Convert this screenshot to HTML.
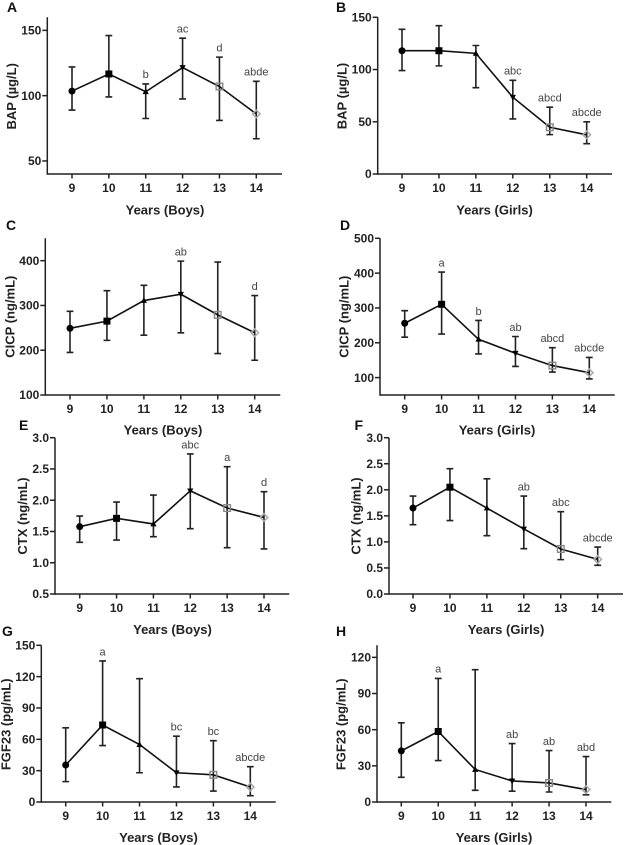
<!DOCTYPE html>
<html lang="en">
<head>
<meta charset="utf-8">
<title>Bone markers by age in boys and girls</title>
<style>
html,body{margin:0;padding:0;background:#fff;}
svg{display:block;filter:blur(0.35px);}
text{font-family:"Liberation Sans",Arial,sans-serif;}
.letter{font-size:14px;font-weight:bold;fill:#111;}
.ytitle,.xtitle{font-size:13px;font-weight:bold;fill:#222;}
.ytitle{text-anchor:middle;}
.xtitle{text-anchor:middle;}
.tick{font-size:12px;font-weight:bold;fill:#222;}
.sig{font-size:11px;fill:#444;text-anchor:middle;}
</style>
</head>
<body>
<svg id="figure" xmlns="http://www.w3.org/2000/svg" width="624" height="845" viewBox="0 0 624 845">
  <rect width="624" height="845" fill="#fff"/>

  <text class="letter" x="7" y="12">A</text>
  <text class="letter" x="336" y="12">B</text>
  <text class="letter" x="6" y="230">C</text>
  <text class="letter" x="340" y="230">D</text>
  <text class="letter" x="19" y="430">E</text>
  <text class="letter" x="354.5" y="430">F</text>
  <text class="letter" x="2" y="636">G</text>
  <text class="letter" x="336" y="636">H</text>

  <text class="ytitle" transform="translate(16,96.3) rotate(-90)">BAP (µg/L)</text>
  <text class="ytitle" transform="translate(346.5,96) rotate(-90)">BAP (µg/L)</text>
  <text class="ytitle" transform="translate(14.5,316.7) rotate(-90)">CICP (ng/mL)</text>
  <text class="ytitle" transform="translate(348.5,316.7) rotate(-90)">CICP (ng/mL)</text>
  <text class="ytitle" transform="translate(27,516) rotate(-90)">CTX (ng/mL)</text>
  <text class="ytitle" transform="translate(360.5,516) rotate(-90)">CTX (ng/mL)</text>
  <text class="ytitle" transform="translate(10.5,724.3) rotate(-90)">FGF23 (pg/mL)</text>
  <text class="ytitle" transform="translate(345.5,724.3) rotate(-90)">FGF23 (pg/mL)</text>

  <text class="xtitle" x="165" y="214.5">Years (Boys)</text>
  <text class="xtitle" x="494.5" y="214.5">Years (Girls)</text>
  <text class="xtitle" x="163" y="434.5">Years (Boys)</text>
  <text class="xtitle" x="497" y="434.5">Years (Girls)</text>
  <text class="xtitle" x="172.5" y="634">Years (Boys)</text>
  <text class="xtitle" x="506" y="634">Years (Girls)</text>
  <text class="xtitle" x="158.5" y="842">Years (Boys)</text>
  <text class="xtitle" x="494" y="842">Years (Girls)</text>
</svg>

<script>
var categories = ['9','10','11','12','13','14'];

var aMeans = [103.5,116.6,103,121.5,107,86];
var aUpper = [122,146,109,144,129.5,111];
var aLower = [89,99,82.5,97.5,81,67];
var aSig = ['','','b','ac','d','abde'];
var aTicks = [50,100,150];

var bMeans = [118,118,115.5,73.5,44.7,37.5];
var bUpper = [138.5,142,123,89.7,64,50];
var bLower = [99,103.5,82.6,52.7,37.7,29];
var bSig = ['','','','abc','abcd','abcde'];
var bTicks = [0,50,100,150];

var cMeans = [249,265,311,325,279,239];
var cUpper = [287,333,345,399,397,322];
var cLower = [195,222,233.5,239,192.5,177.6];
var cSig = ['','','','ab','','d'];
var cTicks = [100,200,300,400];

var dMeans = [256,310.5,210,170,134.5,114];
var dUpper = [292,403,264,218,186,158];
var dLower = [216,225,168,132,116,96];
var dSig = ['','a','b','ab','abcd','abcde'];
var dTicks = [100,200,300,400,500];

var eMeans = [1.577,1.71,1.62,2.15,1.875,1.725];
var eUpper = [1.747,1.97,2.083,2.74,2.536,2.136];
var eLower = [1.326,1.363,1.417,1.545,1.24,1.22];
var eSig = ['','','','abc','a','d'];
var eTicks = ['0.5','1.0','1.5','2.0','2.5','3.0'];

var fMeans = [1.65,2.05,1.65,1.248,0.864,0.665];
var fUpper = [1.88,2.405,2.21,1.88,1.58,0.9];
var fLower = [1.33,1.41,1.12,0.87,0.66,0.55];
var fSig = ['','','','ab','abc','abcde'];
var fTicks = ['0.0','0.5','1.0','1.5','2.0','2.5','3.0'];

var gMeans = [35.4,73.7,55,28,26,14.4];
var gUpper = [71,135,118,63,58.7,33.8];
var gLower = [19.5,54,28,14.4,10.5,6];
var gSig = ['','a','','bc','bc','abcde'];
var gTicks = [0,30,60,90,120,150];

var hMeans = [42.4,58.5,27,17.5,15.8,10.3];
var hUpper = [65.7,102.5,109.8,48.5,42.7,37.7];
var hLower = [20.5,34.4,9.7,9,8.3,6];
var hSig = ['','a','','ab','ab','abd'];
var hTicks = [0,30,60,90,120];

var panels = [
  {id:'a',means:aMeans,upper:aUpper,lower:aLower,sig:aSig,ticks:aTicks,domain:[40,160],axisX:47.3,axisEnd:282,top:17.3,bottom:174,first:72,last:256.3},
  {id:'b',means:bMeans,upper:bUpper,lower:bLower,sig:bSig,ticks:bTicks,domain:[0,150],axisX:377.7,axisEnd:612,top:17.3,bottom:174,first:402,last:586.7},
  {id:'c',means:cMeans,upper:cUpper,lower:cLower,sig:cSig,ticks:cTicks,domain:[100,450],axisX:45.3,axisEnd:280.3,top:238.3,bottom:395,first:70,last:254.7},
  {id:'d',means:dMeans,upper:dUpper,lower:dLower,sig:dSig,ticks:dTicks,domain:[50,500],axisX:380,axisEnd:614.7,top:238.3,bottom:395,first:404.7,last:589.3},
  {id:'e',means:eMeans,upper:eUpper,lower:eLower,sig:eSig,ticks:eTicks,domain:[0.5,3],axisX:55,axisEnd:289.3,top:437.7,bottom:594,first:79.7,last:264},
  {id:'f',means:fMeans,upper:fUpper,lower:fLower,sig:fSig,ticks:fTicks,domain:[0,3],axisX:389,axisEnd:623,top:437.7,bottom:594,first:413,last:597.7},
  {id:'g',means:gMeans,upper:gUpper,lower:gLower,sig:gSig,ticks:gTicks,domain:[0,150],axisX:41.3,axisEnd:275.7,top:645.3,bottom:802,first:65.7,last:250.3},
  {id:'h',means:hMeans,upper:hUpper,lower:hLower,sig:hSig,ticks:hTicks,domain:[0,130],axisX:377,axisEnd:611.3,top:645.3,bottom:802,first:401.3,last:586}
];

var NS = 'http://www.w3.org/2000/svg';
var root = document.getElementById('figure');

function el(tag, attrs, parent) {
  var node = document.createElementNS(NS, tag);
  for (var k in attrs) { node.setAttribute(k, attrs[k]); }
  parent.appendChild(node);
  return node;
}

function makeY(p) {
  return function (v) {
    return p.bottom - (Number(v) - p.domain[0]) / (p.domain[1] - p.domain[0]) * (p.bottom - p.top);
  };
}

function makeX(p) {
  return function (i) {
    return p.first + i * (p.last - p.first) / (categories.length - 1);
  };
}

function drawMarker(group, i) {
  var m;
  if (i === 0) {
    m = el('circle', {cx:0, cy:0, r:3.5, fill:'#000'}, group);
  } else if (i === 1) {
    m = el('rect', {x:-3.5, y:-3.5, width:7, height:7, fill:'#000'}, group);
  } else if (i === 2) {
    m = el('polygon', {points:'0,-3.3 3.1,2.4 -3.1,2.4', fill:'#000'}, group);
  } else if (i === 3) {
    m = el('polygon', {points:'0,3.3 3.1,-2.4 -3.1,-2.4', fill:'#000'}, group);
  } else if (i === 4) {
    m = el('rect', {x:-3.3, y:-3.3, width:6.6, height:6.6, fill:'none', stroke:'#888', 'stroke-width':1.4}, group);
  } else {
    m = el('polygon', {points:'0,-3.8 3.8,0 0,3.8 -3.8,0', fill:'none', stroke:'#aaa', 'stroke-width':1.5}, group);
  }
  return m;
}

panels.forEach(function (p) {
  var y = makeY(p);
  var x = makeX(p);

  var g = el('g', {}, root);
  
  

  var yAxis = el('line', {x1:p.axisX, x2:p.axisX, y1:p.top, y2:p.bottom + 0.7, stroke:'#222', 'stroke-width':1.5}, g);
  
  

  var xAxis = el('line', {x1:p.axisX, x2:p.axisEnd, y1:p.bottom, y2:p.bottom, stroke:'#222', 'stroke-width':1.5}, g);
  
  

  p.ticks.forEach(function (t) {
    var ty = y(t);
    var mark = el('line', {x1:p.axisX - 5, x2:p.axisX, y1:ty, y2:ty, stroke:'#222', 'stroke-width':1.5}, g);
    
    
    var label = el('text', {x:p.axisX - 6, y:ty + 4.2, 'text-anchor':'end', 'class':'tick'}, g);
    label.textContent = t;
    
    
  });

  categories.forEach(function (c, i) {
    var tx = x(i);
    var mark = el('line', {x1:tx, x2:tx, y1:p.bottom, y2:p.bottom + 4.5, stroke:'#222', 'stroke-width':1.5}, g);
    
    
    var label = el('text', {x:tx, y:p.bottom + 17.8, 'text-anchor':'middle', 'class':'tick'}, g);
    label.textContent = c;
    
    
  });

  categories.forEach(function (c, i) {
    var tx = x(i);
    var hi = y(p.upper[i]);
    var lo = y(p.lower[i]);
    var bar = el('path', {
      d:'M' + tx + ' ' + hi + 'V' + lo + 'M' + (tx - 3.4) + ' ' + hi + 'H' + (tx + 3.4) + 'M' + (tx - 3.4) + ' ' + lo + 'H' + (tx + 3.4),
      fill:'none', stroke:'#222', 'stroke-width':1.6
    }, g);
    
    
  });

  var pts = p.means.map(function (v, i) { return x(i) + ',' + y(v); }).join(' ');
  var line = el('polyline', {points:pts, fill:'none', stroke:'#111', 'stroke-width':1.6}, g);
  
  

  p.means.forEach(function (v, i) {
    var mg = el('g', {transform:'translate(' + x(i) + ',' + y(v) + ')'}, g);
    
    
    drawMarker(mg, i);
  });

  p.sig.forEach(function (s, i) {
    if (!s) { return; }
    var t = el('text', {x:x(i), y:y(p.upper[i]) - 5.7, 'class':'sig'}, g);
    t.textContent = s;
    
    
  });
});
</script>
</body>
</html>
